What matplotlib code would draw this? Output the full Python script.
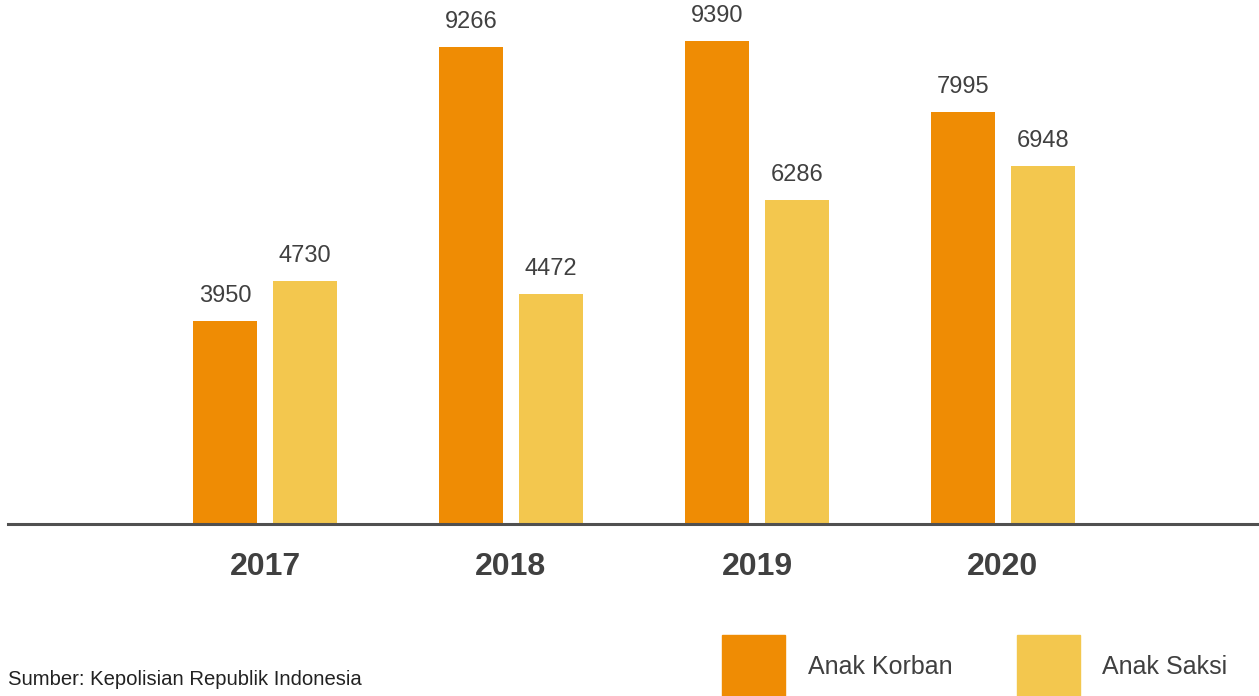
import matplotlib
matplotlib.use("Agg")
import matplotlib.pyplot as plt
from matplotlib.patches import Rectangle

years = ["2017", "2018", "2019", "2020"]
anak_korban = [3950, 9266, 9390, 7995]
anak_saksi = [4730, 4472, 6286, 6948]
series_names = ["Anak Korban", "Anak Saksi"]
source_text = "Sumber: Kepolisian Republik Indonesia"

ORANGE = "#EF8C04"
YELLOW = "#F3C74E"
TEXT = "#404040"

plt.rcParams['font.family'] = ['Liberation Sans', 'DejaVu Sans']

W, H = 1259, 696
fig = plt.figure(figsize=(W / 100, H / 100), dpi=100)
fig.patch.set_facecolor("white")

# axes: left 8px, bottom at baseline y=524, top at y=0
ax = fig.add_axes([8 / W, (H - 524) / H, (W - 8) / W, 524 / H])
ax.set_xlim(-1.0447, 4.0407)
ax.set_ylim(0, 524 / 0.05147)

x = list(range(len(years)))
bw = 64 / 246
off = 40 / 246
b1 = ax.bar([i - off for i in x], anak_korban, width=bw, color=ORANGE, zorder=2)
b2 = ax.bar([i + off for i in x], anak_saksi, width=bw, color=YELLOW, zorder=2)

for bars in (b1, b2):
    for rect in bars:
        h = rect.get_height()
        ax.annotate(f"{int(h)}", (rect.get_x() + rect.get_width() / 2, h),
                    xytext=(0, 14), textcoords="offset pixels",
                    ha="center", va="bottom", fontsize=17, color=TEXT)

for s in ["top", "right", "left"]:
    ax.spines[s].set_visible(False)
ax.spines["bottom"].set_color("#505050")
ax.spines["bottom"].set_linewidth(2.2)
ax.spines["bottom"].set_zorder(3)
ax.set_yticks([])
ax.set_xticks(x)
ax.set_xticklabels(years, fontsize=23, fontweight="bold", color=TEXT)
ax.tick_params(axis="x", length=0, pad=20)
ax.set_facecolor("none")

# legend
for (name, col, sx, tx) in [(series_names[0], ORANGE, 722, 808),
                            (series_names[1], YELLOW, 1017, 1102)]:
    fig.patches.append(Rectangle((sx / W, 0), 63 / W, (H - 635) / H,
                                 transform=fig.transFigure, color=col))
    fig.text(tx / W, 1 - 667 / H, name, fontsize=18, color=TEXT,
             ha="left", va="center")

fig.text(8 / W, 1 - 685 / H, source_text, fontsize=14.6, color="#222222",
         ha="left", va="baseline")

fig.savefig("out.png", dpi=100)
